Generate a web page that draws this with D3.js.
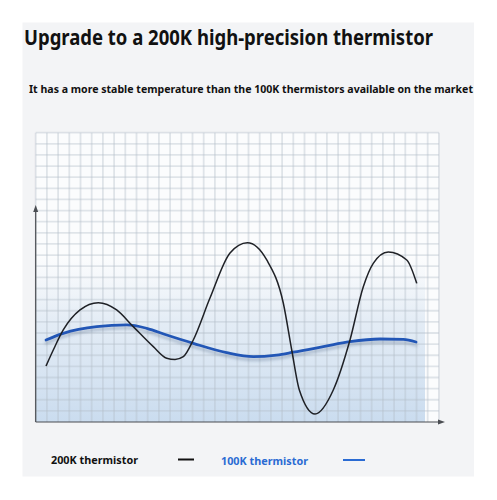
<!DOCTYPE html>
<html><head><meta charset="utf-8">
<script src="https://cdn.jsdelivr.net/npm/d3@7/dist/d3.min.js"></script>
<style>body{margin:0;background:#fff}svg{display:block}</style>
</head><body>
<script>
const titleText = "Upgrade to a 200K high-precision thermistor";
const subtitleText = "It has a more stable temperature than the 100K thermistors available on the market";
const seriesNames = ["200K thermistor", "100K thermistor"];
const blackX = [0.92,1.57,2.46,3.96,5.59,7.23,8.71,10.5,11.7,12.44,13.18,14.07,15.56,17.35,18.9,20.63,22.11,22.86,23.54,24.94,26.57,28.06,29.25,30.14,31.48,33.13,34.02];
const blackY = [4.03,5.47,7.27,9.07,9.72,9.07,7.57,5.77,4.73,4.62,4.87,6.37,10.14,14.19,15.11,13.56,9.67,5.47,1.88,-0.28,1.88,6.37,11.16,13.26,14.28,13.56,11.46];
const blueX = [0.92,2.46,5.45,8.13,9.91,11.7,14.07,17.05,19.43,21.52,23.0,25.68,28.06,30.74,32.82,33.96];
const blueY = [6.37,6.97,7.57,7.72,7.42,6.82,6.07,5.23,4.87,5.02,5.27,5.77,6.22,6.46,6.43,6.19];
const gridCols = d3.range(0, 37);
const gridRows = d3.range(0, 26);

const W = 497, H = 500;
const svg = d3.select("body").append("svg").attr("width", W).attr("height", H);
const defs = svg.append("defs");
const grad = defs.append("linearGradient").attr("id","fade").attr("x1",0).attr("y1",0).attr("x2",0).attr("y2",1);
grad.append("stop").attr("offset","0%").attr("stop-color","#dbe6f2").attr("stop-opacity",0);
grad.append("stop").attr("offset","40%").attr("stop-color","#d6e3f1").attr("stop-opacity",0.65);
grad.append("stop").attr("offset","100%").attr("stop-color","#cadcef").attr("stop-opacity",1);
const sh = defs.append("filter").attr("id","shadow").attr("x","-10%").attr("y","-50%").attr("width","120%").attr("height","200%");
sh.append("feDropShadow").attr("dx",0).attr("dy",3).attr("stdDeviation",1.8).attr("flood-color","#5a6f8c").attr("flood-opacity",0.4);

svg.append("rect").attr("x",22.5).attr("y",22.5).attr("width",451.5).attr("height",454).attr("fill","#f3f4f6");

const x = d3.scaleLinear().domain([0,36]).range([35.7,438.9]);
const y = d3.scaleLinear().domain([-1,25]).range([422,132.7]);

svg.append("rect").attr("x",x(0)).attr("y",y(25)).attr("width",x(36)-x(0)).attr("height",y(-1)-y(25)).attr("fill","#fbfcfd");
svg.append("rect").attr("x",x(0)).attr("y",y(13.8)).attr("width",x(34.76)-x(0)).attr("height",y(-1)-y(13.8)).attr("fill","url(#fade)");

const g = svg.append("g");
g.selectAll("line.v").data(gridCols).join("line").attr("class","v")
  .attr("x1",d=>x(d)).attr("x2",d=>x(d)).attr("y1",y(25)).attr("y2",y(-1))
  .attr("stroke","#b4bcc8").attr("stroke-opacity",0.38).attr("stroke-width",1.8);
g.selectAll("line.h").data(gridRows).join("line").attr("class","h")
  .attr("x1",x(0)).attr("x2",x(36)).attr("y1",d=>y(d)).attr("y2",d=>y(d))
  .attr("stroke","#b4bcc8").attr("stroke-opacity",0.38).attr("stroke-width",1.8);

const axisColor = "#4a4d52";
svg.append("line").attr("x1",x(0)).attr("x2",x(0)).attr("y1",y(-1)).attr("y2",210).attr("stroke",axisColor).attr("stroke-width",1.2);
svg.append("path").attr("d",`M${x(0)-2.5},${212} L${x(0)},${205} L${x(0)+2.5},${212} Z`).attr("fill",axisColor);
svg.append("line").attr("x1",x(0)).attr("x2",440).attr("y1",y(-1)).attr("y2",y(-1)).attr("stroke",axisColor).attr("stroke-width",1.2);
svg.append("path").attr("d",`M${438},${y(-1)-2.5} L${445},${y(-1)} L${438},${y(-1)+2.5} Z`).attr("fill",axisColor);

const line = d3.line().x(d=>x(d[0])).y(d=>y(d[1])).curve(d3.curveMonotoneX);
const blueData = blueX.map((v,i)=>[v,blueY[i]]);
const blackData = blackX.map((v,i)=>[v,blackY[i]]);
svg.append("path").attr("d",line(blueData)).attr("fill","none").attr("stroke","#2157b6").attr("stroke-width",2.8).attr("stroke-linecap","round").attr("filter","url(#shadow)");
svg.append("path").attr("d",line(blackData)).attr("fill","none").attr("stroke","#1f2126").attr("stroke-width",1.5);

const font = "'Noto Sans', 'Open Sans', sans-serif";
svg.append("text").attr("x",24).attr("y",44.5).text(titleText)
  .attr("font-family",font).attr("font-weight",700).attr("font-size",20.5).attr("fill","#111")
  .attr("textLength",409).attr("lengthAdjust","spacingAndGlyphs");
svg.append("text").attr("x",29).attr("y",93).text(subtitleText)
  .attr("font-family",font).attr("font-weight",700).attr("font-size",11).attr("fill","#111")
  .attr("textLength",444).attr("lengthAdjust","spacingAndGlyphs");

svg.append("text").attr("x",51).attr("y",463.5).text(seriesNames[0])
  .attr("font-family",font).attr("font-weight",700).attr("font-size",11).attr("fill","#111")
  .attr("textLength",87).attr("lengthAdjust","spacingAndGlyphs");
svg.append("line").attr("x1",178).attr("x2",194).attr("y1",459.5).attr("y2",459.5).attr("stroke","#111").attr("stroke-width",2);
svg.append("text").attr("x",221).attr("y",464.5).text(seriesNames[1])
  .attr("font-family",font).attr("font-weight",700).attr("font-size",11).attr("fill","#2a6bd3")
  .attr("textLength",87).attr("lengthAdjust","spacingAndGlyphs");
svg.append("line").attr("x1",343).attr("x2",365).attr("y1",460).attr("y2",460).attr("stroke","#2a6bd3").attr("stroke-width",2);
</script>
</body></html>
